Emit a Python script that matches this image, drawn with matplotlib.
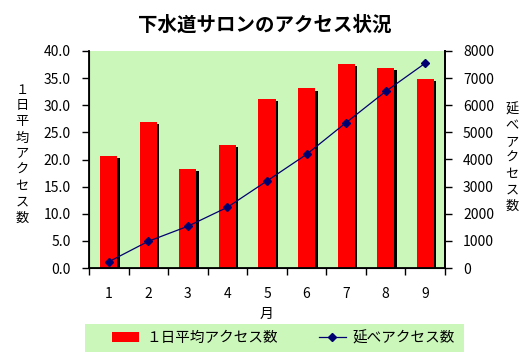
import matplotlib
matplotlib.use('Agg')
import matplotlib.pyplot as plt
import matplotlib.patheffects as pe
from matplotlib.patches import Patch, Rectangle
from matplotlib.lines import Line2D

plt.rcParams['font.family'] = ['Noto Sans CJK JP', 'DejaVu Sans']

# data
months = [1, 2, 3, 4, 5, 6, 7, 8, 9]
daily_avg = [20.6, 26.9, 18.2, 22.7, 31.1, 33.1, 37.6, 36.8, 34.8]
total_access = [230, 985, 1540, 2240, 3210, 4190, 5360, 6510, 7550]

title = '下水道サロンのアクセス状況'
left_label = '１日平均アクセス数'
right_label = '延べアクセス数'
bar_name = '１日平均アクセス数'
line_name = '延べアクセス数'

bg = '#ccf7bb'
red = '#ff0000'
navy = '#000070'

W, H = 530, 355
fig = plt.figure(figsize=(W / 100, H / 100), dpi=100)

# plot area in pixels: x 89..445, y 51..268
ax = fig.add_axes([89 / W, (H - 268) / H, 356 / W, 217 / H])
ax.set_facecolor(bg)

bars = ax.bar(months, daily_avg, width=0.43, color=red, zorder=2)
for b in bars:
    b.set_path_effects([pe.SimplePatchShadow(offset=(1.8, -1.5), shadow_rgbFace='black', alpha=1.0),
                        pe.Normal()])

ax.set_xlim(0.5, 9.5)
ax.set_ylim(0, 40)
ax.set_yticks([0, 5, 10, 15, 20, 25, 30, 35, 40])
ax.set_yticklabels([f'{v:.1f}' for v in ax.get_yticks()])
ax.set_xticks(months)
ax.set_xticks([m + 0.5 for m in [0] + months], minor=True)
ax.tick_params(axis='x', which='major', length=0, pad=14, labelsize=10)
ax.tick_params(axis='x', which='minor', length=5, width=1, direction='out')
ax.tick_params(axis='y', length=5, width=1, direction='out', labelsize=10, pad=8)
ax.spines['top'].set_visible(False)
for s in ['left', 'bottom', 'right']:
    ax.spines[s].set_linewidth(1.3)
ax.set_xlabel('月', fontsize=10, labelpad=4)

ax2 = ax.twinx()
ax2.plot(months, total_access, color=navy, lw=0.9, marker='D', markersize=4.5, zorder=3)
ax2.set_ylim(0, 8000)
ax2.set_yticks(range(0, 8001, 1000))
ax2.tick_params(axis='y', length=5, width=1, direction='out', labelsize=10, pad=8)
ax2.spines['top'].set_visible(False)
ax2.spines['right'].set_linewidth(1.3)

fig.text(265 / W, 1 - 25 / H, title, ha='center', va='center', fontsize=14, fontweight='bold')
fig.text(22 / W, 1 - 154 / H, '\n'.join(left_label), ha='center', va='center', fontsize=9.5, linespacing=1.3)
fig.text(512 / W, 1 - 158 / H, '\n'.join(right_label), ha='center', va='center', fontsize=9.5, linespacing=1.3)

# legend box
fig.patches.append(Rectangle((85 / W, 3 / H), 379 / W, 28 / H, transform=fig.transFigure,
                             facecolor=bg, edgecolor='none', zorder=0))
handles = [Patch(facecolor=red, edgecolor='none'),
           Line2D([], [], color=navy, lw=0.9, marker='D', markersize=4.5)]
fig.legend(handles, [bar_name, line_name], ncol=2, loc='center left',
           bbox_to_anchor=(106 / W, 17 / H), fontsize=10.5, frameon=False,
           borderaxespad=0, handlelength=1.85, handletextpad=0.5, columnspacing=2.8)

fig.savefig('out.png', dpi=100)
